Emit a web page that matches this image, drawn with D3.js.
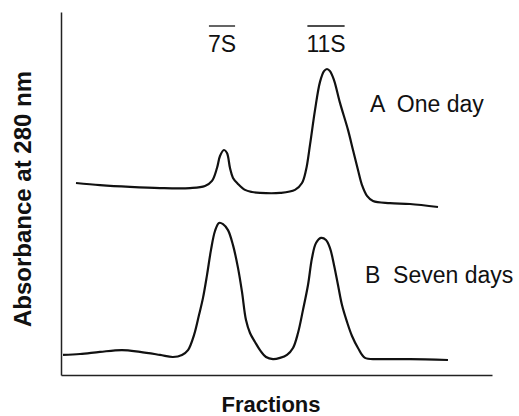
<!DOCTYPE html>
<html>
<head>
<meta charset="utf-8">
<script src="https://cdn.jsdelivr.net/npm/d3@7"></script>
<style>
  body { margin: 0; background: #fff; }
  text { font-family: "Liberation Sans", Arial, sans-serif; fill: #111; }
</style>
</head>
<body>
<svg id="chart" width="519" height="416"></svg>
<script>
// fraction number and absorbance (arbitrary units)
const oneDayFraction = [1.5, 3.9, 6.9, 9.9, 12.9, 14.4, 15.1, 15.6, 15.9, 16.3, 16.6, 16.9, 17.2, 17.7, 18.4, 19.1, 19.9, 21.9, 23.4, 24.1, 24.5, 24.9, 25.4, 25.9, 26.3, 26.6, 26.9, 27.3, 27.9, 28.7, 29.2, 29.7, 30.1, 30.6, 31.2, 32.9, 34.9, 37.7]
const oneDayAbs = [0.640, 0.633, 0.627, 0.623, 0.623, 0.630, 0.647, 0.690, 0.730, 0.750, 0.740, 0.690, 0.657, 0.637, 0.617, 0.610, 0.607, 0.607, 0.617, 0.640, 0.683, 0.767, 0.883, 0.977, 1.013, 1.020, 1.013, 0.983, 0.907, 0.817, 0.750, 0.683, 0.633, 0.597, 0.580, 0.573, 0.570, 0.560]

const sevenDayFraction = [0.2, 1.9, 3.9, 6.1, 7.9, 9.9, 11.2, 12.1, 12.7, 13.3, 13.8, 14.2, 14.6, 15.0, 15.4, 15.8, 16.2, 16.7, 17.2, 17.7, 18.1, 18.5, 18.9, 19.4, 19.9, 20.5, 21.2, 21.9, 22.6, 23.2, 23.7, 24.2, 24.7, 25.1, 25.5, 26.0, 26.5, 26.9, 27.3, 27.7, 28.1, 28.6, 29.1, 29.7, 30.4, 31.9, 34.9, 38.7]
const sevenDayAbs = [0.067, 0.070, 0.077, 0.083, 0.077, 0.067, 0.060, 0.067, 0.083, 0.133, 0.200, 0.257, 0.333, 0.417, 0.480, 0.507, 0.503, 0.483, 0.433, 0.357, 0.277, 0.183, 0.140, 0.110, 0.083, 0.060, 0.053, 0.057, 0.067, 0.090, 0.140, 0.217, 0.300, 0.390, 0.440, 0.457, 0.450, 0.423, 0.367, 0.300, 0.233, 0.177, 0.130, 0.090, 0.057, 0.053, 0.053, 0.050]

const seriesLabels = ['A  One day', 'B  Seven days']
const markerLabels = ['7S', '11S']
const markerFractions = [16.1, 26.5]

window.onload = function(){
    const svg = d3.select('#chart')
    const margin = {left: 61, top: 12, right: 27, bottom: 41}
    const width = 519 - margin.left - margin.right
    const height = 416 - margin.top - margin.bottom

    const x = d3.scaleLinear().domain([0, 43.1]).range([0, width])
    const y = d3.scaleLinear().domain([0, 1.21]).range([height, 0])

    const g = svg.append('g').attr('transform', 'translate(' + margin.left + ',' + margin.top + ')')

    // bare axes, no ticks
    g.append('g')
        .attr('transform', 'translate(0,' + height + ')')
        .call(d3.axisBottom(x).tickValues([]).tickSizeOuter(0))
        .select('.domain').attr('stroke', '#222').attr('stroke-width', 1.5)
    g.append('g')
        .call(d3.axisLeft(y).tickValues([]).tickSizeOuter(0))
        .select('.domain').attr('stroke', '#222').attr('stroke-width', 1.5)

    const line = d3.line()
        .x(d => x(d[0]))
        .y(d => y(d[1]))
        .curve(d3.curveCatmullRom)

    const traces = [
        d3.zip(oneDayFraction, oneDayAbs),
        d3.zip(sevenDayFraction, sevenDayAbs)
    ]

    g.selectAll('path.trace')
        .data(traces)
        .join('path')
        .attr('class', 'trace')
        .attr('d', line)
        .attr('fill', 'none')
        .attr('stroke', '#111')
        .attr('stroke-width', 2.2)
        .attr('stroke-linejoin', 'round')

    // series labels
    const labelPos = [{f: 26.9, dy: 100}, {f: 26.5, dy: 271}]
    g.selectAll('text.series')
        .data(seriesLabels)
        .join('text')
        .attr('class', 'series')
        .attr('x', (d, i) => x(labelPos[i].f) + (i === 0 ? 40 : 39))
        .attr('y', (d, i) => labelPos[i].dy)
        .attr('font-size', 23)
        .style('white-space', 'pre')
        .attr('xml:space', 'preserve')
        .text(d => d)

    // sedimentation markers with overline
    const markers = g.selectAll('g.marker')
        .data(markerLabels)
        .join('g')
        .attr('class', 'marker')
        .attr('transform', (d, i) => 'translate(' + x(markerFractions[i]) + ',0)')
    markers.append('text')
        .attr('text-anchor', 'middle')
        .attr('y', 40)
        .attr('font-size', 23)
        .text(d => d)
    markers.each(function(){
        const t = d3.select(this).select('text')
        const w = t.node().getComputedTextLength()
        d3.select(this).append('line')
            .attr('x1', -w / 2 + 1).attr('x2', w / 2 - 1)
            .attr('y1', 14).attr('y2', 14)
            .attr('stroke', '#111').attr('stroke-width', 1.3)
    })

    // axis titles
    svg.append('text')
        .attr('text-anchor', 'middle')
        .attr('transform', 'translate(31,' + (margin.top + 187) + ') rotate(-90)')
        .attr('font-size', 24)
        .attr('font-weight', 'bold')
        .text('Absorbance at 280 nm')
    svg.append('text')
        .attr('text-anchor', 'middle')
        .attr('x', 271)
        .attr('y', 412)
        .attr('font-size', 22)
        .attr('font-weight', 'bold')
        .text('Fractions')
}
</script>
</body>
</html>
